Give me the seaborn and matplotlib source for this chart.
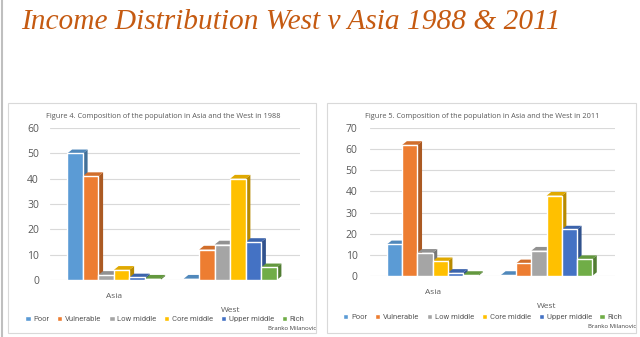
import numpy as np
import pandas as pd
import matplotlib
matplotlib.use("Agg")
import matplotlib.pyplot as plt
from matplotlib.patches import Polygon, Rectangle
from matplotlib.lines import Line2D
import matplotlib.colors as mcolors
import matplotlib.transforms as mtrans
import seaborn as sns

# ---- data ----
regions = ["Asia", "West"]
groups = ["Poor", "Vulnerable", "Low middle", "Core middle", "Upper middle", "Rich"]
asia_1988 = [50, 41, 2, 4, 1, 0.5]
west_1988 = [0.5, 12, 14, 40, 15, 5]
asia_2011 = [15, 62, 11, 7, 1.5, 0.5]
west_2011 = [0.5, 6, 12, 38, 22, 8]
yticks_1988 = [0, 10, 20, 30, 40, 50, 60]
yticks_2011 = [0, 10, 20, 30, 40, 50, 60, 70]
title_1988 = "Figure 4. Composition of the population in Asia and the West in 1988"
title_2011 = "Figure 5. Composition of the population in Asia and the West in 2011"
main_title = "Income Distribution West v Asia 1988 & 2011"
credit = "Branko Milanovic"
palette = ["#5B9BD5", "#ED7D31", "#A5A5A5", "#FFC000", "#4472C4", "#70AD47"]

def make_df(asia, west):
    rows = []
    for g, a, w in zip(groups, asia, west):
        rows.append({"region": "Asia", "group": g, "value": a})
        rows.append({"region": "West", "group": g, "value": w})
    return pd.DataFrame(rows)

sns.set_theme(style="white")
plt.rcParams["font.family"] = ["Open Sans", "DejaVu Sans"]

fig = plt.figure(figsize=(6.4, 3.37), dpi=100)
W, H = 640, 337

def px_rect(x0, y0, x1, y1):
    return [x0 / W, 1 - y1 / H, (x1 - x0) / W, (y1 - y0) / H]

# slide left border
fig.add_artist(Line2D([1.5 / W, 1.5 / W], [0, 1], color="#BFBFBF", lw=1.5, transform=fig.transFigure))

# main title
fig.text(21 / W, 1 - 22 / H, main_title, color="#C55A11", fontsize=21.2, style="italic",
         family=["Liberation Serif", "DejaVu Serif"], ha="left", va="center")

# panel boxes
for (x0, x1) in [(8, 316), (327, 636)]:
    fig.add_artist(Rectangle((x0 / W, 1 - 333 / H), (x1 - x0) / W, (333 - 103) / H,
                             transform=fig.transFigure, fill=False, ec="#D9D9D9", lw=0.8))

def shade(c, f):
    r, g, b = mcolors.to_rgb(c)
    return (r * f, g * f, b * f)

def panel(rect, asia, west, yticks, title, tcx, ypad, leg_y):
    ax = fig.add_axes(rect)
    df = make_df(asia, west)
    sns.barplot(data=df, x="region", y="value", hue="group", hue_order=groups,
                palette=palette, saturation=1, width=0.8, ax=ax, zorder=3)
    ymax = yticks[-1]
    dy = ymax * 0.025
    # pseudo-3D faces derived from the bar geometry
    for cont, col in zip(ax.containers, palette):
        for p in cont.patches:
            x0, w, h = p.get_x(), p.get_width(), p.get_height()
            dx = w * 0.3
            side = Polygon([(x0 + w, 0), (x0 + w + dx, dy), (x0 + w + dx, h + dy), (x0 + w, h)],
                           closed=True, fc=shade(col, 0.72), ec="none", zorder=2)
            top = Polygon([(x0, h), (x0 + dx, h + dy), (x0 + w + dx, h + dy), (x0 + w, h)],
                          closed=True, fc=shade(col, 0.88), ec="none", zorder=2)
            ax.add_patch(side)
            ax.add_patch(top)
    ax.set_ylim(0, ymax)
    ax.set_yticks(yticks)
    ax.set_xlim(-0.55, 1.6)
    ax.yaxis.grid(True, color="#D9D9D9", lw=0.8, zorder=0)
    ax.set_axisbelow(True)
    for s in ax.spines.values():
        s.set_visible(False)
    ax.tick_params(axis="both", length=0, colors="#595959", labelsize=7.5)
    ax.tick_params(axis="y", pad=ypad)
    ax.tick_params(axis="x", pad=9, labelsize=6)
    labs = ax.get_xticklabels()
    labs[1].set_transform(labs[1].get_transform() +
                          mtrans.ScaledTranslation(0, -14 / 100, fig.dpi_scale_trans))
    ax.set_xlabel("")
    ax.set_ylabel("")
    sns.move_legend(ax, "upper center", bbox_to_anchor=(0.46, leg_y), ncol=6, frameon=False,
                    title=None, handlelength=0.7, handleheight=0.7,
                    handletextpad=0.35, columnspacing=1.0, labelcolor="#595959",
                    prop={"family": ["Roboto", "DejaVu Sans"], "size": 5.5})
    fig.text(tcx / W, 1 - 117 / H, title, fontsize=5.3, color="#595959", ha="center", va="center")
    return ax

panel(px_rect(50, 128, 300, 280), asia_1988, west_1988, yticks_1988, title_1988, 163, 8, -0.19)
panel(px_rect(370, 128, 615, 276), asia_2011, west_2011, yticks_2011, title_2011, 482, 9, -0.21)

fig.text(316 / W, 1 - 329 / H, credit, fontsize=4.3, color="#404040", ha="right", va="center")
fig.text(636 / W, 1 - 327 / H, credit, fontsize=4.3, color="#404040", ha="right", va="center")

fig.savefig("out.png", dpi=100, facecolor="white")
